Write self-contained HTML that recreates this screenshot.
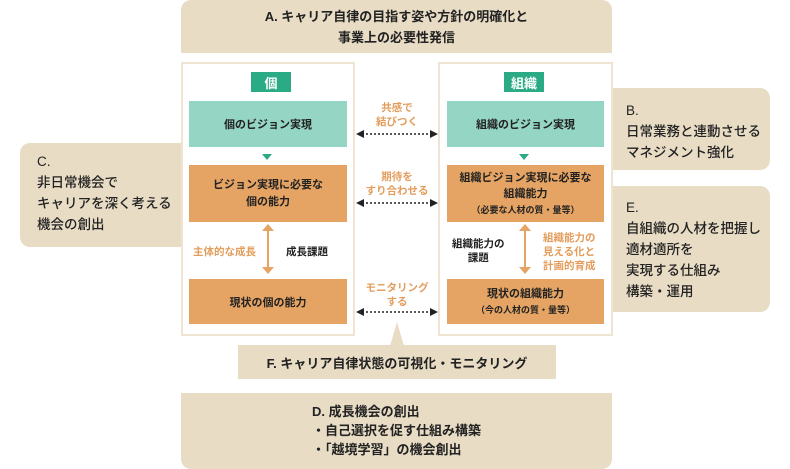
<!DOCTYPE html>
<html><head><meta charset="utf-8"><style>
*{margin:0;padding:0;box-sizing:border-box}
body{width:790px;height:469px;background:#fff;position:relative;overflow:hidden;font-family:"Liberation Sans","Noto Sans CJK JP",sans-serif;color:#222}
.a{position:absolute}
.bg{background:#e8dcc5}
.c{display:flex;flex-direction:column;align-items:center;justify-content:center;text-align:center;font-weight:bold}
.panel{position:absolute;background:#fff;border:2px solid #efe3d2}
.teal{background:#95d5c3}
.or{background:#e5a464}
.lab{background:#2aaa85;color:#fff;font-size:13px}
.side{font-size:13.5px;line-height:21px;font-weight:500}
.ol{color:#e39d5c;font-size:10.5px;font-weight:bold;text-align:center;line-height:14px}
</style></head><body>
<div class="a bg c" style="left:181px;top:0;width:431px;height:53px;border-radius:10px 10px 0 0;font-size:13px;line-height:21px">A. キャリア自律の目指す姿や方針の明確化と<br>事業上の必要性発信</div>
<div class="a bg side" style="left:20px;top:143px;width:175px;height:104px;border-radius:10px 0 0 10px;padding:8px 0 0 17px">C.<br>非日常機会で<br>キャリアを深く考える<br>機会の創出</div>
<div class="a bg side" style="left:600px;top:88px;width:170px;height:82px;border-radius:0 10px 10px 0;padding:12px 0 0 26px">B.<br>日常業務と連動させる<br>マネジメント強化</div>
<div class="a bg side" style="left:600px;top:186px;width:170px;height:126px;border-radius:0 10px 10px 0;padding:11px 0 0 26px">E.<br>自組織の人材を把握し<br>適材適所を<br>実現する仕組み<br>構築・運用</div>

<div class="panel" style="left:181px;top:62px;width:174px;height:274px"></div>
<div class="panel" style="left:438px;top:62px;width:175px;height:274px"></div>

<div class="a lab c" style="left:251px;top:72px;width:40px;height:20px">個</div>
<div class="a lab c" style="left:504px;top:72px;width:40px;height:20px">組織</div>

<div class="a teal c" style="left:189px;top:101px;width:158px;height:46px;font-size:11px">個のビジョン実現</div>
<div class="a teal c" style="left:447px;top:101px;width:157px;height:46px;font-size:11px">組織のビジョン実現</div>
<div class="a" style="left:262px;top:154px;border-left:5px solid transparent;border-right:5px solid transparent;border-top:6px solid #2aaa85"></div>
<div class="a" style="left:519px;top:154px;border-left:5px solid transparent;border-right:5px solid transparent;border-top:6px solid #2aaa85"></div>

<div class="a or c" style="left:189px;top:165px;width:158px;height:57px;font-size:11px;line-height:17px">ビジョン実現に必要な<br>個の能力</div>
<div class="a or c" style="left:447px;top:165px;width:157px;height:57px;font-size:11px;line-height:16px">組織ビジョン実現に必要な<br>組織能力<span style="font-size:9px">（必要な人材の質・量等）</span></div>
<div class="a or c" style="left:189px;top:279px;width:158px;height:45px;font-size:11px">現状の個の能力</div>
<div class="a or c" style="left:447px;top:279px;width:157px;height:45px;font-size:11px;line-height:16px">現状の組織能力<span style="font-size:9px">（今の人材の質・量等）</span></div>

<svg class="a" style="left:0;top:0" width="790" height="469">
<g stroke="#e5a464" stroke-width="2" fill="#e5a464">
<line x1="268" y1="230" x2="268" y2="268"/><polygon points="262,231 274,231 268,224" stroke="none"/><polygon points="262,267 274,267 268,274" stroke="none"/>
<line x1="525" y1="230" x2="525" y2="268"/><polygon points="519,231 531,231 525,224" stroke="none"/><polygon points="519,267 531,267 525,274" stroke="none"/>
</g>
<g stroke="#222" stroke-width="1.5" stroke-dasharray="2,2" fill="#222">
<line x1="362" y1="134" x2="432" y2="134"/><line x1="362" y1="203" x2="432" y2="203"/><line x1="362" y1="312" x2="432" y2="312"/>
</g>
<g fill="#222">
<polygon points="356,134 364,130 364,138"/><polygon points="438,134 430,130 430,138"/>
<polygon points="356,203 364,199 364,207"/><polygon points="438,203 430,199 430,207"/>
<polygon points="356,312 364,308 364,316"/><polygon points="438,312 430,308 430,316"/>
</g>
<polygon points="390,346 404,346 397,322" fill="#e8dcc5"/>
</svg>

<div class="a ol" style="left:356px;top:101px;width:82px">共感で<br>結びつく</div>
<div class="a ol" style="left:356px;top:170px;width:82px">期待を<br>すり合わせる</div>
<div class="a ol" style="left:356px;top:281px;width:82px">モニタリング<br>する</div>

<div class="a" style="left:193px;top:244px;color:#e39d5c;font-size:10.5px;font-weight:bold">主体的な成長</div>
<div class="a" style="left:286px;top:244px;font-size:10.5px;font-weight:bold">成長課題</div>
<div class="a" style="left:452px;top:237px;font-size:10.5px;font-weight:bold;line-height:14px;text-align:center">組織能力の<br>課題</div>
<div class="a" style="left:543px;top:231px;color:#e39d5c;font-size:10.5px;font-weight:bold;line-height:14px">組織能力の<br>見える化と<br>計画的育成</div>

<div class="a bg c" style="left:238px;top:345px;width:318px;height:34px;font-size:13px">F. キャリア自律状態の可視化・モニタリング</div>
<div class="a bg" style="left:181px;top:393px;width:431px;height:76px;border-radius:0 0 10px 10px;font-size:13px;font-weight:bold;line-height:19px;padding:9px 0 0 131px">D. 成長機会の創出<br>・自己選択を促す仕組み構築<br>・「越境学習」の機会創出</div>
</body></html>
